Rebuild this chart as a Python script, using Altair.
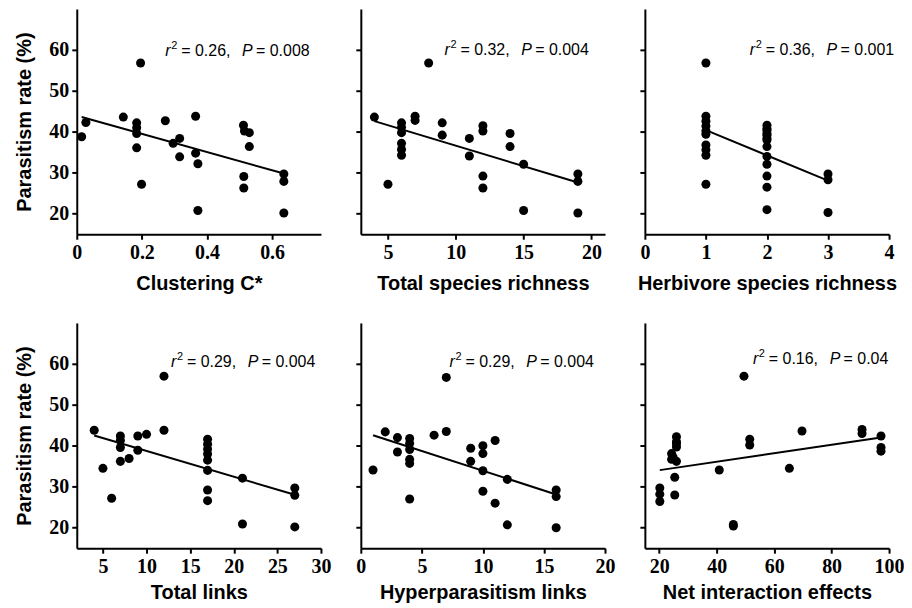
import altair as alt
import pandas as pd

# ---------------- data ----------------
y_ticks = [20, 30, 40, 50, 60]
y_title = "Parasitism rate (%)"

titles = ["Clustering C*", "Total species richness", "Herbivore species richness",
          "Total links", "Hyperparasitism links", "Net interaction effects"]

r2_vals = ["0.26", "0.32", "0.36", "0.29", "0.29", "0.16"]
p_vals = ["0.008", "0.004", "0.001", "0.004", "0.004", "0.04"]

clust_x = [0.015, 0.028, 0.196, 0.143, 0.184, 0.184, 0.184, 0.184, 0.199, 0.272, 0.296, 0.316, 0.316,
           0.365, 0.365, 0.372, 0.372, 0.512, 0.515, 0.530, 0.530, 0.513, 0.513, 0.636, 0.636, 0.636]
clust_y = [38.8, 42.3, 56.8, 43.6, 42.2, 41.0, 39.6, 36.1, 27.2, 42.7, 37.2, 38.4, 33.9,
           43.8, 34.8, 32.2, 20.8, 41.6, 40.2, 39.8, 36.4, 29.1, 26.3, 29.7, 27.9, 20.2]

rich_x = [4, 5, 6, 6, 6, 6, 6, 6, 7, 7, 8, 9, 9, 11, 11, 12, 12, 12, 12, 14, 14, 15, 15, 19, 19, 19]
rich_y = [43.6, 27.2, 42.2, 41.1, 39.8, 37.2, 35.7, 34.3, 43.8, 42.8, 56.8, 42.2, 39.2, 38.4, 34.1,
          41.5, 40.2, 29.2, 26.3, 39.6, 36.4, 32.1, 20.8, 29.7, 27.9, 20.2]

herb_x = [1, 1, 1, 1, 1, 1, 1, 1, 1, 1,
          2, 2, 2, 2, 2, 2, 2, 2, 2, 2, 2, 2, 2,
          3, 3, 3]
herb_y = [56.8, 43.8, 42.6, 41.4, 40.2, 39.4, 36.8, 35.6, 34.3, 27.2,
          41.6, 40.8, 40.4, 39.6, 39.2, 38.4, 38.0, 36.4, 34.0, 32.1, 29.2, 26.5, 21.0,
          29.7, 28.3, 20.3]

links_x = [4, 5, 6, 7, 7, 7, 7, 8, 9, 9, 10, 12, 12, 17, 17, 17, 17, 17, 17, 17, 17, 21, 21, 27, 27, 27]
links_y = [43.8, 34.5, 27.2, 42.4, 41.3, 39.6, 36.2, 36.9, 42.4, 38.9, 42.8, 57.0, 43.8,
           41.6, 40.4, 39.2, 38.0, 36.5, 34.0, 29.2, 26.6, 32.1, 20.9, 29.7, 27.9, 20.2]

hyper_x = [1, 2, 3, 3, 4, 4, 4, 4, 4, 4, 6, 7, 7, 9, 9, 10, 10, 10, 10, 11, 11, 12, 12, 16, 16, 16]
hyper_y = [34.1, 43.4, 42.0, 38.5, 41.8, 40.6, 39.1, 36.7, 35.7, 27.0, 42.6, 56.7, 43.5, 39.4, 36.2,
           40.0, 38.1, 33.9, 28.9, 41.3, 26.0, 31.8, 20.7, 29.2, 27.6, 20.0]

net_x = [20.2, 20.2, 20.2, 24.3, 24.3, 24.8, 25.4, 25.4, 26, 26, 26, 26, 26, 40.9, 45.8, 45.8,
         49.5, 51.5, 51.5, 65.3, 69.7, 90.6, 90.6, 97.2, 97.2, 97.2]
net_y = [29.7, 28.2, 26.4, 38.1, 36.7, 37.3, 32.3, 28.0, 42.2, 41.0, 40.5, 39.7, 36.2, 34.1, 20.8, 20.4,
         57.0, 41.6, 40.2, 34.5, 43.6, 44.0, 43.0, 42.4, 39.6, 38.7]

xs_all = [clust_x, rich_x, herb_x, links_x, hyper_x, net_x]
ys_all = [clust_y, rich_y, herb_y, links_y, hyper_y, net_y]

x_domains = [[0, 0.75], [3, 21], [0, 4], [2, 30], [0, 20], [15, 100]]
x_tick_vals = [[0, 0.2, 0.4, 0.6], [5, 10, 15, 20], [0, 1, 2, 3, 4],
               [5, 10, 15, 20, 25, 30], [0, 5, 10, 15, 20], [20, 40, 60, 80, 100]]
x_formats = [".1~f", "d", "d", "d", "d", "d"]

# annotation anchor (data units, left of "r")
ann_x = [0.272, 9.17, 1.72, 12.8, 7.27, 52.6]
ann_y = [58.6, 58.8, 58.8, 59.2, 59.3, 60.0]

AXIS_STYLE = dict(
    domainColor="black", domainWidth=2, tickColor="black", tickWidth=2, tickSize=5,
    grid=False, labelFont="Liberation Serif", labelFontWeight="bold", labelFontSize=20,
    labelColor="black", titleFont="Liberation Sans", titleFontWeight="bold",
    titleFontSize=20, titleColor="black", labelPadding=3,
    labelFlush=False, labelOverlap=False,
)


def panel(i, first_col, x_title_pad):
    df = pd.DataFrame({"x": xs_all[i], "y": ys_all[i]})
    xenc = alt.X("x:Q",
                 scale=alt.Scale(domain=x_domains[i], nice=False, zero=False),
                 axis=alt.Axis(values=x_tick_vals[i], format=x_formats[i], title=titles[i],
                               titlePadding=x_title_pad, **AXIS_STYLE))
    if first_col:
        yaxis = alt.Axis(values=y_ticks, title=y_title, titlePadding=14, **AXIS_STYLE)
    else:
        yaxis = alt.Axis(values=y_ticks, title=None, labels=False, **AXIS_STYLE)
    yenc = alt.Y("y:Q", scale=alt.Scale(domain=[15, 70], nice=False, zero=False), axis=yaxis)

    pts = alt.Chart(df).mark_circle(size=82, color="black", opacity=1).encode(x=xenc, y=yenc)
    line = (alt.Chart(df).transform_regression("x", "y")
            .mark_line(color="black", strokeWidth=2).encode(x=xenc, y=yenc))

    adf = pd.DataFrame({"x": [ann_x[i]], "y": [ann_y[i]]})
    parts = [
        ("r", 16, "italic", 0, 0),
        ("2", 11, "normal", 6, -7),
        ("= " + r2_vals[i] + ",", 16, "normal", 16, 0),
        ("P", 16, "italic", 77, 0),
        ("= " + p_vals[i], 16, "normal", 91, 0),
    ]
    anns = [
        alt.Chart(adf).mark_text(text=t, align="left", baseline="alphabetic",
                                 font="Liberation Sans", fontSize=fs, fontStyle=st,
                                 dx=dx, dy=dy, color="black").encode(x=xenc, y=yenc)
        for (t, fs, st, dx, dy) in parts
    ]
    return alt.layer(pts, line, *anns).properties(width=245, height=226)


row1 = alt.hconcat(panel(0, True, 11), panel(1, False, 11), panel(2, False, 11),
                   spacing=40, bounds="flush")
row2 = alt.hconcat(panel(3, True, 6), panel(4, False, 6), panel(5, False, 6),
                   spacing=40, bounds="flush")

chart = (
    alt.vconcat(row1, row2, spacing=30)
    .properties(padding={"left": 7, "top": 0, "right": 0, "bottom": 0}, background="white")
    .configure_view(strokeWidth=0)
)

chart.save("out.html", embed_options={"renderer": "svg", "actions": False})
